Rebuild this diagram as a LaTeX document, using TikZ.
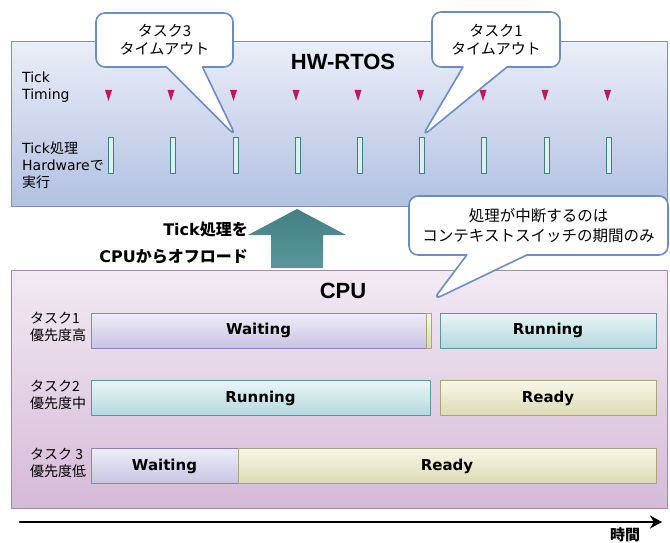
\documentclass[tikz,border=0pt]{standalone}
\usepackage{fontspec}
\setmainfont{DejaVu Sans}
\newfontfamily\jpfont{Noto Sans CJK JP}
\newfontfamily\headfont{Liberation Sans}
\usetikzlibrary{arrows.meta}
\usetikzlibrary{shapes.callouts}
\newcommand{\jp}[1]{{\jpfont #1}}
\definecolor{hwtop}{HTML}{EAEEF8}
\definecolor{hwbot}{HTML}{B2C0E2}
\definecolor{hwline}{HTML}{7990C8}
\definecolor{cputop}{HTML}{F2EAF3}
\definecolor{cpubot}{HTML}{D6BAD8}
\definecolor{cpuline}{HTML}{A58AAA}
\definecolor{tickred}{HTML}{C2185B}
\definecolor{barline}{HTML}{3E8080}
\definecolor{barfill}{HTML}{DDF0F0}
\definecolor{waittop}{HTML}{EEEDF8}
\definecolor{waitbot}{HTML}{C8C4E2}
\definecolor{waitline}{HTML}{8A84BC}
\definecolor{runtop}{HTML}{E9F5F7}
\definecolor{runbot}{HTML}{B4D8DE}
\definecolor{runline}{HTML}{5897A2}
\definecolor{readytop}{HTML}{F7F7E8}
\definecolor{readybot}{HTML}{DCDBB5}
\definecolor{readyline}{HTML}{A8A676}
\definecolor{balloonline}{HTML}{6A8CC8}
\definecolor{tealtop}{HTML}{437F84}
\definecolor{tealbot}{HTML}{5A979A}
\newcommand{\tickmark}[1]{\fill[tickred] ({#1-3.5},90) -- ({#1+3.5},90) -- (#1,101) -- cycle;}

\begin{document}
\begin{tikzpicture}[line cap=round,line join=round,>={Stealth[length=12pt,width=13pt]},x=1pt,y=-1pt,
  bigbox/.style={draw,line width=1pt,inner sep=0pt,minimum width=656pt},
  title/.style={font=\headfont\bfseries\fontsize{22}{26}\selectfont},
  lbl/.style={anchor=west,align=left,inner sep=0pt,font=\fontsize{14}{17}\selectfont},
  bar/.style={draw=barline,line width=1pt,fill=barfill,minimum width=5pt,minimum height=36pt,inner sep=0pt},
  task/.style={draw,line width=0.8pt,minimum height=35pt,inner sep=0pt,font=\bfseries\fontsize{15}{18}\selectfont},
  waiting/.style={task,draw=waitline,top color=waittop,bottom color=waitbot},
  running/.style={task,draw=runline,top color=runtop,bottom color=runbot},
  ready/.style={task,draw=readyline,top color=readytop,bottom color=readybot},
  balloon/.style={rectangle callout,draw=balloonline,line width=1.6pt,fill=white,rounded corners=9pt,
    align=center,inner sep=0pt,font=\jpfont\fontsize{15}{18}\selectfont}]
\useasboundingbox (0,0) rectangle (670,543);
% HW-RTOS
\node[bigbox,draw=hwline,top color=hwtop,bottom color=hwbot,minimum height=164pt] (hw) at (339,124) {};
\node[title] (hwtitle) at (343,62) {HW-RTOS};
\node[lbl] (ticklbl) at (22,87) {Tick\\Timing};
\node[lbl] (hwlbl) at (22,165) {Tick\jp{処理}\\Hardware\jp{で}\\\jp{実行}};
\tickmark{108.5}
\tickmark{171}
\tickmark{233.5}
\tickmark{296}
\tickmark{358}
\tickmark{420.5}
\tickmark{483}
\tickmark{545}
\tickmark{607.5}
\node[bar] (tA) at (111,155) {};
\node[bar] (tB) at (173,155) {};
\node[bar] (tC) at (236,155) {};
\node[bar] (tD) at (298,155) {};
\node[bar] (tE) at (360,155) {};
\node[bar] (tF) at (422,155) {};
\node[bar] (tG) at (484,155) {};
\node[bar] (tH) at (547,155) {};
\node[bar] (tI) at (609,155) {};
% CPU
\node[bigbox,draw=cpuline,top color=cputop,bottom color=cpubot,minimum height=238pt] (cpu) at (339,389) {};
\node[title] (cputitle) at (343,291) {CPU};
% offload arrow
\shade[top color=tealtop,bottom color=tealbot] (271,268) -- (271,235) -- (248,235) -- (297,209)
  -- (346,235) -- (323,235) -- (323,268) -- cycle;
\node[anchor=east,align=right,inner sep=0pt,font=\bfseries\fontsize{16}{27}\selectfont] (offload) at (248,243)
  {Tick\jp{処理を}\\CPU\jp{からオフロード}};
% tasks
\node[lbl] (lbl1) at (30,327) {\jp{タスク1}\\\jp{優先度高}};
\node[lbl] (lbl2) at (30,395) {\jp{タスク2}\\\jp{優先度中}};
\node[lbl] (lbl3) at (30,463) {\jp{タスク 3}\\\jp{優先度低}};
\node[waiting,minimum width=335pt] (w1) at (258.5,330.5) {Waiting};
\node[ready,minimum width=5pt] (sw1) at (428.5,330.5) {};
\node[running,minimum width=216pt] (r1) at (548,330.5) {Running};
\node[running,minimum width=339pt] (r2) at (260.5,398) {Running};
\node[ready,minimum width=216pt] (y2) at (548,398) {Ready};
\node[waiting,minimum width=147pt] (w3) at (164.5,466) {Waiting};
\node[ready,minimum width=418pt] (y3) at (447,466) {Ready};
% balloons
\coordinate (switch) at (433,300);
\node[balloon,minimum width=137pt,minimum height=54pt,callout absolute pointer={(tC.north)},
  callout pointer width=36pt] (b3) at (164.5,40) {タスク3\\タイムアウト};
\node[balloon,minimum width=128pt,minimum height=55pt,callout absolute pointer={(tF.north)},
  callout pointer width=44pt] (b1) at (496,39.5) {タスク1\\タイムアウト};
\node[balloon,minimum width=259pt,minimum height=59pt,callout absolute pointer={(switch)},
  callout pointer width=60pt,font=\jpfont\fontsize{15.5}{20}\selectfont] (bs) at (538.5,225.5)
  {処理が中断するのは\\コンテキストスイッチの期間のみ};
% time axis
\coordinate (t0) at (20,522);
\coordinate (t1) at (662,522);
\draw[->,line width=2.5pt] (t0) -- (t1);
\node[font=\jpfont\bfseries\fontsize{15}{17}\selectfont] (timelbl) at (625,535) {時間};
\end{tikzpicture}
\end{document}
